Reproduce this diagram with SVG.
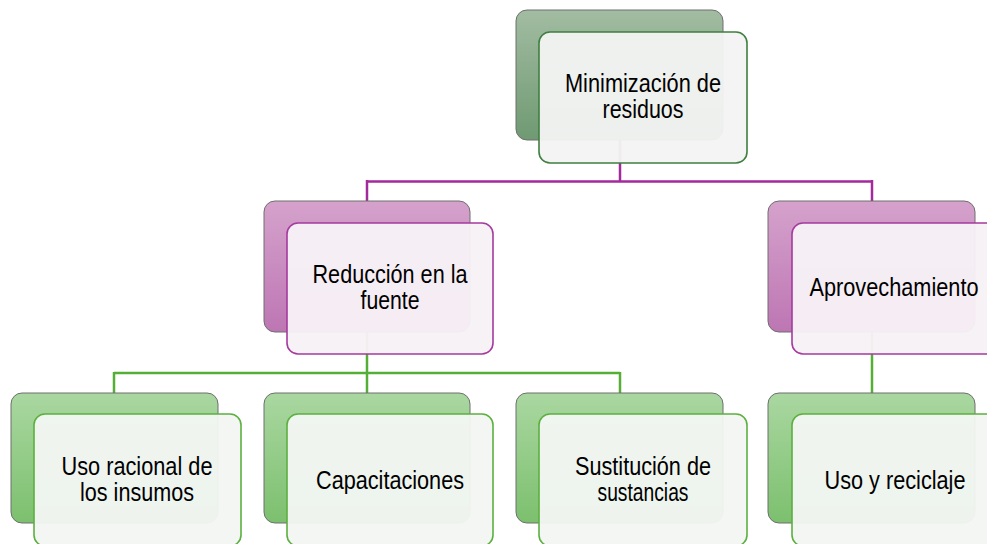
<svg xmlns="http://www.w3.org/2000/svg" width="987" height="544" viewBox="0 0 987 544">
<defs>
<linearGradient id="gDark" x1="0" y1="0" x2="0" y2="1"><stop offset="0" stop-color="#a2bca2"/><stop offset="1" stop-color="#6f9a72"/></linearGradient>
<linearGradient id="gPurple" x1="0" y1="0" x2="0" y2="1"><stop offset="0" stop-color="#d5a2cc"/><stop offset="1" stop-color="#bd76b3"/></linearGradient>
<linearGradient id="gGreen" x1="0" y1="0" x2="0" y2="1"><stop offset="0" stop-color="#aad7a1"/><stop offset="1" stop-color="#7cc06e"/></linearGradient>
</defs>
<style>
.back{stroke:#6e6e6e;stroke-width:1}
.fD{fill:#f2f4f2;fill-opacity:0.96;stroke:#3f7f3f;stroke-width:1.6}
.fP{fill:#f7f1f6;fill-opacity:0.96;stroke:#a53a9f;stroke-width:1.6}
.fG{fill:#f3f6f3;fill-opacity:0.96;stroke:#5cb040;stroke-width:1.6}
.lp{stroke:#a32a9c;stroke-width:2.5;fill:none}
.lg{stroke:#55ae36;stroke-width:2.5;fill:none}
text{font-family:"Liberation Sans",Arial,sans-serif;font-size:25px;fill:#000;text-anchor:middle}
</style>
<rect width="987" height="544" fill="#ffffff"/>
<g id="connectors">
<path class="lp" d="M620,140 V181.5 M367,181.5 H872 M367,180 V202 M872,180 V202"/>
<path class="lg" d="M367,332 V373 M114,373 H620 M114,372 V393 M367,372 V393 M620,372 V393 M872,332 V393"/>
</g>
<g id="n-minimizacion">
<rect class="back" x="516" y="10" width="207" height="130" rx="11" fill="url(#gDark)"/>
<rect class="fD" x="539" y="32" width="208" height="131" rx="11"/>
<text x="643" y="92" textLength="156" lengthAdjust="spacingAndGlyphs">Minimización de</text>
<text x="643" y="118" textLength="81" lengthAdjust="spacingAndGlyphs">residuos</text>
</g>
<g id="n-reduccion">
<rect class="back" x="264" y="201" width="206" height="131" rx="11" fill="url(#gPurple)"/>
<rect class="fP" x="287" y="223" width="206" height="131" rx="11"/>
<text x="390" y="283" textLength="155" lengthAdjust="spacingAndGlyphs">Reducción en la</text>
<text x="390" y="309" textLength="59" lengthAdjust="spacingAndGlyphs">fuente</text>
</g>
<g id="n-aprovechamiento">
<rect class="back" x="768" y="201" width="207" height="131" rx="11" fill="url(#gPurple)"/>
<rect class="fP" x="792" y="223" width="206" height="131" rx="11"/>
<text x="894" y="296" textLength="169" lengthAdjust="spacingAndGlyphs">Aprovechamiento</text>
</g>
<g id="n-uso-racional">
<rect class="back" x="11" y="393" width="207" height="130" rx="11" fill="url(#gGreen)"/>
<rect class="fG" x="34" y="414" width="207" height="132" rx="11"/>
<text x="137" y="475" textLength="151" lengthAdjust="spacingAndGlyphs">Uso racional de</text>
<text x="137" y="501" textLength="114" lengthAdjust="spacingAndGlyphs">los insumos</text>
</g>
<g id="n-capacitaciones">
<rect class="back" x="264" y="393" width="206" height="130" rx="11" fill="url(#gGreen)"/>
<rect class="fG" x="287" y="414" width="206" height="132" rx="11"/>
<text x="390" y="489" textLength="148" lengthAdjust="spacingAndGlyphs">Capacitaciones</text>
</g>
<g id="n-sustitucion">
<rect class="back" x="516" y="393" width="207" height="130" rx="11" fill="url(#gGreen)"/>
<rect class="fG" x="539" y="414" width="208" height="132" rx="11"/>
<text x="643" y="475" textLength="136" lengthAdjust="spacingAndGlyphs">Sustitución de</text>
<text x="643" y="501" textLength="91" lengthAdjust="spacingAndGlyphs">sustancias</text>
</g>
<g id="n-uso-reciclaje">
<rect class="back" x="768" y="393" width="207" height="130" rx="11" fill="url(#gGreen)"/>
<rect class="fG" x="792" y="414" width="206" height="132" rx="11"/>
<text x="895" y="489" textLength="141" lengthAdjust="spacingAndGlyphs">Uso y reciclaje</text>
</g>
</svg>
